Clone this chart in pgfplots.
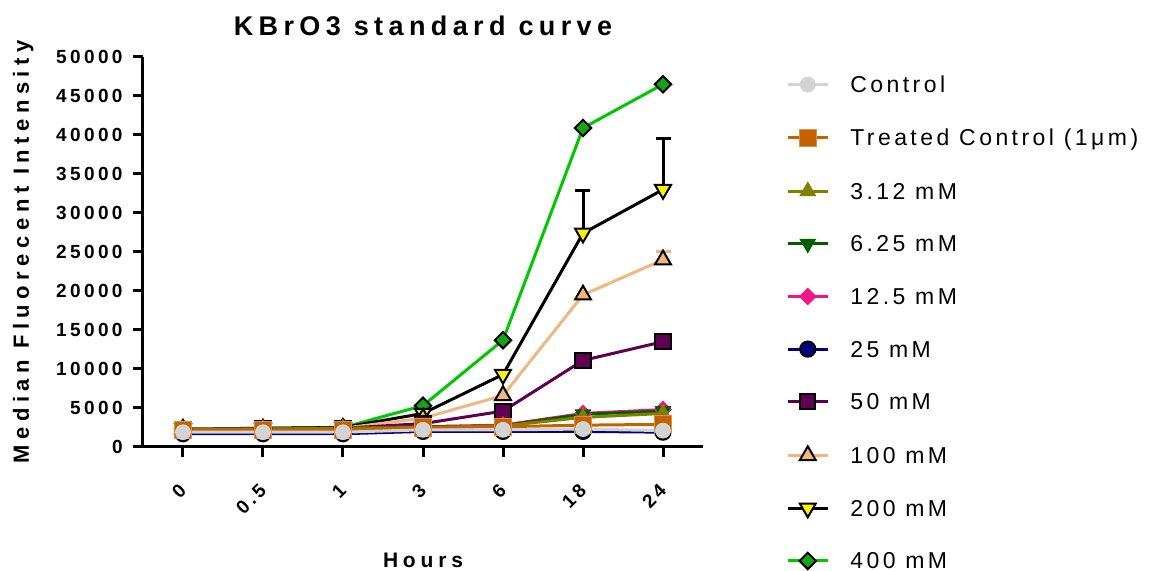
\documentclass[border=0pt]{standalone}
\usepackage{fontspec}
\setmainfont{Liberation Sans}
\newfontfamily\legfont{Liberation Sans}[LetterSpace=15]
\newfontfamily\titlefont{Liberation Sans}[LetterSpace=20]
\newfontfamily\labfont{Liberation Sans}[LetterSpace=25]
\newfontfamily\hoursfont{Liberation Sans}[LetterSpace=23]
\newfontfamily\tickfont{Liberation Sans}[LetterSpace=18]
\usepackage{pgfplots}
\pgfplotsset{compat=1.18}
\definecolor{cCtrl}{RGB}{211,211,211}
\definecolor{cTreat}{RGB}{196,98,0}
\definecolor{cA}{RGB}{128,128,0}
\definecolor{cB}{RGB}{0,95,0}
\definecolor{cC}{RGB}{245,20,135}
\definecolor{cD}{RGB}{0,0,128}
\definecolor{cE}{RGB}{96,0,80}
\definecolor{cF}{RGB}{242,182,128}
\definecolor{cG}{RGB}{0,0,0}
\definecolor{cH}{RGB}{0,200,0}
\definecolor{cHf}{RGB}{20,165,20}
\begin{document}
\begin{tikzpicture}
\begin{axis}[
  scale only axis,
  width=280pt, height=195pt,
  xmin=-0.5, xmax=6.5, ymin=0, ymax=50000,
  axis x line=bottom, axis y line=left,
  axis line style={-, line width=1.5pt, black},
  tick align=outside,
  major tick length=5pt,
  tick style={line width=1.5pt, black},
  xtick={0,1,2,3,4,5,6},
  xticklabels={0,0.5,1,3,6,18,24},
  ytick={0,5000,...,50000},
  minor tick num=0,
  scaled y ticks=false,
  /pgf/number format/.cd, set thousands separator={}, assume math mode=true, /pgfplots/.cd,
  ticklabel style={font=\tickfont\fontsize{9.5}{10}\selectfont\bfseries},
  yticklabel style={anchor=east, inner sep=0pt, xshift=-5pt},
  xticklabel style={yshift=-15pt, rotate=45, anchor=east, inner sep=0pt},
  title={KBrO3 standard curve},
  title style={font=\titlefont\fontsize{13.5}{15}\selectfont\bfseries, at={(0.5,1)}, anchor=base, yshift=4.5pt},
  xlabel={Hours},
  xlabel style={font=\hoursfont\fontsize{10.5}{12}\selectfont\bfseries, at={(0.5,0)}, anchor=base, yshift=-60.5pt},
  ylabel={Median Fluorecent Intensity},
  ylabel style={font=\labfont\fontsize{11}{12}\selectfont\bfseries, at={(-0.2036,0.5)}, anchor=base},
  reverse legend,
  legend style={draw=none, fill=none, at={(1.148,0.951)}, anchor=north west,
    inner sep=0pt, row sep=16.3pt,
    nodes={font=\legfont\fontsize{11.5}{13}\selectfont, inner sep=0pt, text height=8pt, text depth=2pt, anchor=base west}},
  legend cell align=left,
  legend image code/.code={
    \draw[mark repeat=2, mark phase=2, #1] plot coordinates {(0pt,4pt) (10pt,4pt) (20pt,4pt)};
    \path (30.5pt,4pt);
  },
]
% drawn from last legend entry to first
\addplot[color=cH, line width=1.5pt, mark=square*, mark size=2.9pt,
  mark options={rotate=45, fill=cHf, draw=black, line width=1pt, solid}]
  coordinates {(0,2300)(1,2400)(2,2500)(3,5300)(4,13700)(5,40900)(6,46500)};
\addlegendentry{400 mM}
\addplot[color=cG, line width=1.5pt, mark=triangle*, mark size=4.6pt,
  mark options={rotate=180, fill=yellow, draw=black, line width=1pt, solid},
  error bars/.cd, y dir=plus, y explicit,
  error bar style={line width=1.5pt, color=black},
  error mark options={line width=1.5pt, mark size=3.75pt, color=black, rotate=90}]
  coordinates {(0,2300)(1,2400)(2,2500)(3,4300)(4,9300)(5,27400) +- (0,5500) (6,33000) +- (0,6600)};
\addlegendentry{200 mM}
\addplot[color=cF, line width=1.5pt, mark=triangle*, mark size=4.6pt,
  mark options={fill=cF, draw=black, line width=1pt, solid},
  error bars/.cd, y dir=plus, y explicit,
  error bar style={line width=1.5pt, color=cF},
  error mark options={line width=1.5pt, mark size=3.75pt, color=cF, rotate=90}]
  coordinates {(0,2300)(1,2300)(2,2400)(3,3700)(4,6600)(5,19500)(6,24000) +- (0,1100)};
\addlegendentry{100 mM}
\addplot[color=cE, line width=1.5pt, mark=square*, mark size=3.8pt,
  mark options={fill=cE, draw=black, line width=1pt, solid}]
  coordinates {(0,2200)(1,2300)(2,2400)(3,3000)(4,4600)(5,11100)(6,13500)};
\addlegendentry{50 mM}
\addplot[color=cD, line width=1.5pt, mark=*, mark size=3.8pt,
  mark options={fill=cD, draw=black, line width=1pt, solid}]
  coordinates {(0,1700)(1,1700)(2,1700)(3,2000)(4,2000)(5,2000)(6,1900)};
\addlegendentry{25 mM}
\addplot[color=cC, line width=1.5pt, mark=square*, mark size=2.9pt,
  mark options={rotate=45, fill=cC, draw=cC, line width=0.5pt, solid}]
  coordinates {(0,2200)(1,2300)(2,2400)(3,2600)(4,2800)(5,4300)(6,4800)};
\addlegendentry{12.5 mM}
\addplot[color=cB, line width=1.5pt, mark=triangle*, mark size=4.4pt,
  mark options={rotate=180, fill=cB, draw=cB, line width=0.5pt, solid}]
  coordinates {(0,2200)(1,2300)(2,2400)(3,2600)(4,2700)(5,4200)(6,4600)};
\addlegendentry{6.25 mM}
\addplot[color=cA, line width=1.5pt, mark=triangle*, mark size=4.4pt,
  mark options={fill=cA, draw=cA, line width=0.5pt, solid}]
  coordinates {(0,2200)(1,2300)(2,2400)(3,2500)(4,2700)(5,3800)(6,4300)};
\addlegendentry{3.12 mM}
\addplot[color=cTreat, line width=1.5pt, mark=square*, mark size=4.3pt,
  mark options={fill=cTreat, draw=cTreat!70!white, line width=0.5pt, solid}]
  coordinates {(0,2200)(1,2200)(2,2200)(3,2500)(4,2600)(5,2800)(6,2900)};
\addlegendentry{Treated Control (1μm)}
\addplot[color=cCtrl, line width=1.5pt, mark=*, mark size=3.7pt,
  mark options={fill=cCtrl, draw=cCtrl, line width=0.5pt, solid}]
  coordinates {(0,1900)(1,1900)(2,1900)(3,2200)(4,2200)(5,2300)(6,2100)};
\addlegendentry{Control}
\end{axis}
\pgfresetboundingbox
\path[use as bounding box] (-71.5pt,-62pt) rectangle (503pt,223.5pt);
\end{tikzpicture}
\end{document}
